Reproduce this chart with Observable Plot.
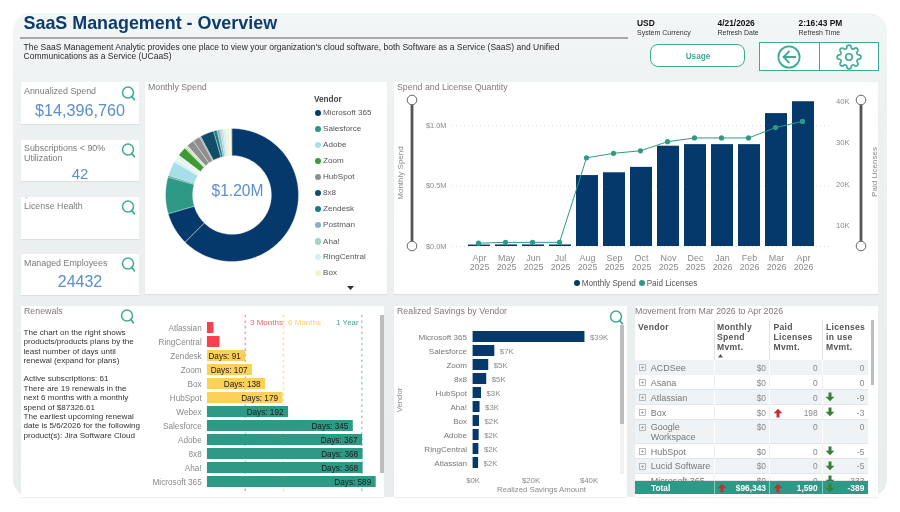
<!DOCTYPE html>
<html><head><meta charset="utf-8">
<script src="https://cdn.jsdelivr.net/npm/d3@7"></script>
<script src="https://cdn.jsdelivr.net/npm/@observablehq/plot@0.6"></script>
<style>
html,body{margin:0;padding:0;background:#fff;overflow:hidden}
#root{position:relative;width:900px;height:512px;overflow:hidden;font-family:"Liberation Sans",Arial,sans-serif;filter:blur(.45px)}
.a{position:absolute}
.t{position:absolute;white-space:pre;line-height:1}
svg{display:block}
</style></head><body><div id="root"></div>
<script>
// ---------- data ----------
const months = ["Apr 2025","May 2025","Jun 2025","Jul 2025","Aug 2025","Sep 2025","Oct 2025","Nov 2025","Dec 2025","Jan 2026","Feb 2026","Mar 2026","Apr 2026"];
const monthlySpend = [12000,13000,13000,13000,587000,610000,655000,830000,843000,843000,843000,1100000,1198000];
const paidLicenses = [5800,6000,6000,6000,26400,27500,28100,30300,31200,31200,31200,33700,35200];

const sliceVendors = ["Microsoft 365","Microsoft 365","Salesforce","Zendesk","Adobe","RingCentral","Box","RingCentral","Other","Zoom","Other","Other","HubSpot","HubSpot","Other","8x8","Zendesk","Postman","Aha!","Other","RingCentral","Box","Other","Other"];
const sliceSpend   = [750,96,107,4,43,8,4,6,5,27,5,5,22,21,4,40,10,8,6,4,8,10,4,3];
const sliceColors  = ["#05386b","#05386b","#2e9a85","#1c7d78","#a8deea","#d5f0f7","#eef7c4","#d5f0f7","#e8f5f0","#3f9a35","#b7dcae","#c9e6bc","#8f8f8f","#8f8f8f","#8f8f8f","#0e4e6b","#1c7d78","#8faecd","#9ed6c8","#b9d3de","#d5f0f7","#eef7c4","#f7fbe6","#9fb3c8"];

const legendVendors = ["Microsoft 365","Salesforce","Adobe","Zoom","HubSpot","8x8","Zendesk","Postman","Aha!","RingCentral","Box"];
const legendColors  = ["#05386b","#2e9a85","#a8deea","#3f9a35","#8f8f8f","#0e4e6b","#1c7d78","#8faecd","#9ed6c8","#d5f0f7","#eef7c4"];

const renewalVendors = ["Atlassian","RingCentral","Zendesk","Zoom","Box","HubSpot","Webex","Salesforce","Adobe","8x8","Aha!","Microsoft 365"];
const renewalDays    = [16,30,91,107,138,179,192,345,367,368,368,589];
const renewalAxisMax = 399;
const renewalThresholds = [90,180,365];

const savingsVendors = ["Microsoft 365","Salesforce","Zoom","8x8","HubSpot","Aha!","Box","Adobe","RingCentral","Atlassian"];
const savingsAmount  = [38600,7500,5400,4700,2900,2400,2200,2100,2000,1900];
const savingsLabels  = ["$39K","$7K","$5K","$5K","$3K","$3K","$2K","$2K","$2K","$2K"];

const tableVendors = ["ACDSee","Asana","Atlassian","Box","Google\nWorkspace","HubSpot","Lucid Software","Microsoft 365"];
const tableSpend   = [0,0,0,0,0,0,0,0];
const tablePaid    = [0,0,0,198,0,0,0,0];
const tableInUse   = [0,0,-9,-3,0,-5,-5,-333];

const kpis = [["Annualized Spend","$14,396,760"],["Subscriptions < 90%\nUtilization","42"],["License Health",""],["Managed Employees","24432"]];

// ---------- palette / helpers ----------
const NAVY="#05386b",TEAL="#2e9a85",ICON="#3fa994",GREY="#7a7a7a",AXIS="#8a8a8a",KPI="#5a8fca",DARK="#333";
const FONT='"Liberation Sans",Arial,sans-serif';
const root=document.getElementById("root");
function box(x,y,w,h,css={}){const d=document.createElement("div");d.className="a";
  Object.assign(d.style,{left:x+"px",top:y+"px",width:w+"px",height:h+"px"},css);root.appendChild(d);return d;}
function T(x,y,s,o={}){const d=document.createElement("div");d.className="t";d.textContent=s;
  const ax={start:"0",middle:"-50%",end:"-100%"}[o.anchor||"start"];
  Object.assign(d.style,{left:x+"px",top:y+"px",fontSize:(o.size||9)+"px",color:o.color||GREY,fontWeight:o.weight||"normal",
    lineHeight:o.lh?o.lh+"px":"1",letterSpacing:o.ls?o.ls+"px":"normal",
    transform:`translate(${ax},-50%)`+(o.rotate?` rotate(${o.rotate}deg)`:"")});
  (o.parent||root).appendChild(d);return d;}
function raw(x,y,w,h,inner,view){const d=box(x,y,w,h);d.innerHTML=`<svg width="${w}" height="${h}" viewBox="${view||`0 0 ${w} ${h}`}" fill="none">${inner}</svg>`;return d;}
function place(x,y,w,h,node){const d=box(x,y,w,h);d.appendChild(node);return d;}
const searchIcon=(x,y)=>raw(x,y,15,15,`<circle cx="7" cy="6.6" r="5.5" stroke="${ICON}" stroke-width="1.5"/><path d="M10.6 10.4l2.8 3.4" stroke="${ICON}" stroke-width="1.7" stroke-linecap="round"/>`);
const slider=(x)=>raw(x-7,93,14,160,`<rect x="5.6" y="7" width="2.8" height="146" fill="#555"/><circle cx="7" cy="7" r="4.8" fill="#fff" stroke="#666" stroke-width="1"/><circle cx="7" cy="153" r="4.8" fill="#fff" stroke="#666" stroke-width="1"/>`);
const arrow=(x,y,up,c)=>raw(x-5,y-5,10,10,up?`<path d="M5 .8L9.4 5.2H6.5V9.6H3.5V5.2H.6z" fill="${c}"/>`:`<path d="M5 9.2L9.4 4.8H6.5V.4H3.5V4.8H.6z" fill="${c}"/>`);
const card=(x,y,w,h)=>box(x,y,w,h,{background:"#fff",boxShadow:"0 1px 1px rgba(0,0,0,.06)"});
const plotStyle={background:"transparent",fontFamily:FONT,overflow:"visible",maxWidth:"none"};

// ---------- frame ----------
box(13,13,874,484,{background:"linear-gradient(#f3f6f7,#edf1f2 20%,#e9edee)",borderRadius:"18px"});
T(23.5,24,"SaaS Management - Overview",{size:17.9,weight:"bold",color:"#0c3c6e"});
box(20,37.4,608,1.4,{background:"#a8a8a8"});
T(23.5,46.5,"The SaaS Management Analytic provides one place to view your organization's cloud software, both Software as a Service (SaaS) and Unified",{size:8.52,color:"#2a2a2a"});
T(23.5,55.6,"Communications as a Service (UCaaS)",{size:8.52,color:"#2a2a2a"});
[[637,"USD","System Currency"],[717.5,"4/21/2026","Refresh Date"],[798.5,"2:16:43 PM","Refresh Time"]].forEach(([x,a,b])=>{
  T(x,23,a,{size:8.4,weight:"bold",color:"#111"});T(x,32,b,{size:7,color:"#333"});});
box(650,43.5,95,23,{background:"#fff",border:"1px solid "+ICON,borderRadius:"8px",boxSizing:"border-box"});
T(698,56.5,"Usage",{size:8.2,weight:"bold",color:ICON,anchor:"middle"});
box(758.5,41.5,120,29,{background:"#fff",border:"1.4px solid "+ICON,boxSizing:"border-box"});
box(819,41.5,1.4,29,{background:ICON});
raw(776,44,26,26,`<circle cx="13" cy="13" r="10.6" stroke="${ICON}" stroke-width="1.8"/><path d="M13.5 7L7.5 13l6 6M7.5 13H20" stroke="${ICON}" stroke-width="1.8"/>`);
raw(836,44,26,26,`<g stroke="${ICON}" stroke-width="1.5"><circle cx="12" cy="12" r="3"/><path d="M19.4 15a1.65 1.65 0 0 0 .33 1.82l.06.06a2 2 0 0 1 0 2.83 2 2 0 0 1-2.83 0l-.06-.06a1.65 1.65 0 0 0-1.82-.33 1.65 1.65 0 0 0-1 1.51V21a2 2 0 0 1-2 2 2 2 0 0 1-2-2v-.09A1.65 1.65 0 0 0 9 19.4a1.65 1.65 0 0 0-1.82.33l-.06.06a2 2 0 0 1-2.83 0 2 2 0 0 1 0-2.83l.06-.06a1.65 1.65 0 0 0 .33-1.82 1.65 1.65 0 0 0-1.51-1H3a2 2 0 0 1-2-2 2 2 0 0 1 2-2h.09A1.65 1.65 0 0 0 4.6 9a1.65 1.65 0 0 0-.33-1.82l-.06-.06a2 2 0 0 1 0-2.83 2 2 0 0 1 2.83 0l.06.06a1.65 1.65 0 0 0 1.82.33H9a1.65 1.65 0 0 0 1-1.51V3a2 2 0 0 1 2-2 2 2 0 0 1 2 2v.09a1.65 1.65 0 0 0 1 1.51 1.65 1.65 0 0 0 1.82-.33l.06-.06a2 2 0 0 1 2.83 0 2 2 0 0 1 0 2.83l-.06.06a1.65 1.65 0 0 0-.33 1.82V9a1.65 1.65 0 0 0 1.51 1H21a2 2 0 0 1 2 2 2 2 0 0 1-2 2h-.09a1.65 1.65 0 0 0-1.51 1z"/></g>`,"0 0 24 24");

// ---------- KPI cards ----------
const kpiTop=[82,140,197,254], kpiH=[42,41,42,41], kpiTitleY=[91,148,206,263], kpiValY=[110,173,0,282];
kpis.forEach(([a,b],i)=>{
  card(21,kpiTop[i],118,kpiH[i]);
  T(24,kpiTitleY[i]+(i==1?5:0),a,{size:8.9,color:GREY,lh:10});
  if(b)T(80,kpiValY[i],b,{size:i==0?16.2:i==1?15:16,color:KPI,anchor:"middle"});
  searchIcon(121,kpiTop[i]+(i==0?3.7:i==1?3.2:i==2?3.2:3));
});
T(25,198.5,"^",{size:6,color:"#aaa"});

// ---------- donut ----------
card(145,82,242,212);
T(148,87,"Monthly Spend",{size:8.8});
const totalSpend=d3.sum(sliceSpend);
let running=0;
const rOut=30, rIn=54.5;               // latitudes of the ring on the polar projection
const slices=sliceSpend.map((v,i)=>{
  const a0=running/totalSpend*360; running+=v; const a1=running/totalSpend*360;
  const n=Math.max(2,Math.ceil((a1-a0)/2));
  const outer=d3.range(n+1).map(k=>[180-(a0+(a1-a0)*k/n),rOut]);
  const inner=d3.range(n+1).map(k=>[180-(a1-(a1-a0)*k/n),rIn]);
  return {type:"Feature",properties:{vendor:sliceVendors[i],color:sliceColors[i]},
    geometry:{type:"Polygon",coordinates:[[...outer,...inner,outer[0]]]}};
});
place(164.5,127.5,133,133,Plot.plot({width:133,height:133,margin:0,style:plotStyle,
  projection:{type:"azimuthal-equidistant",rotate:[0,-90],domain:d3.geoCircle().center([0,90]).radius(60)(),inset:0},
  color:{type:"identity"},
  marks:[Plot.geo(slices,{fill:d=>d.properties.color,stroke:"#fff",strokeWidth:.35})]}));
T(237.5,191,"$1.20M",{size:15.6,color:KPI,anchor:"middle"});
T(314,100,"Vendor",{size:8.2,weight:"bold",color:"#444"});
const legY=[112.7,128.7,144.7,161,176.7,192.7,209,225,241.5,257.3,273];
legendVendors.forEach((v,i)=>{
  box(315,legY[i]-3.2,6.4,6.4,{background:legendColors[i],borderRadius:"50%"});
  T(323,legY[i],v,{size:8.1,color:"#555"});
});
raw(347,286,7,5,`<path d="M0 0H7L3.5 4z" fill="#333"/>`);

// ---------- spend and licenses ----------
card(394,82,484,212);
T(397,87,"Spend and License Quantity",{size:8.8});
const spendRows=months.map((m,i)=>({m,v:monthlySpend[i],l:paidLicenses[i]}));
const mL=66,mR=57.4,mT=19,mB=48;
const spendPlot=Plot.plot({width:484,height:212,marginLeft:mL,marginRight:mR,marginTop:mT,marginBottom:mB,style:plotStyle,
  x:{domain:months,paddingInner:.2,paddingOuter:.1,axis:null},
  y:{domain:[0,1200000],axis:null},
  marks:[
    Plot.gridY([0,500000,1000000],{stroke:"#bbb",strokeDasharray:"1,3",strokeOpacity:.45,insetLeft:-8,insetRight:-9}),
    Plot.barY(spendRows,{x:"m",y:"v",fill:NAVY}),
    Plot.axisX({anchor:"bottom",tickSize:0,tickPadding:8,fontSize:8.9,fill:AXIS,label:null,tickFormat:d=>d.replace(" ","\n")}),
    Plot.axisY({anchor:"left",ticks:[0,500000,1000000],tickSize:0,tickPadding:14,fontSize:7.4,fill:AXIS,label:null,tickFormat:d=>"$"+(d/1e6).toFixed(1)+"M"})
  ]});
place(394,82,484,212,spendPlot);
const licPlot=Plot.plot({width:484,height:212,marginLeft:mL,marginRight:mR,marginTop:mT,marginBottom:mB,style:plotStyle,
  x:{domain:months,paddingInner:.2,paddingOuter:.1,axis:null},
  y:{domain:[5000,40000],axis:null},
  marks:[
    Plot.axisY({anchor:"right",ticks:[10000,20000,30000,40000],tickSize:0,tickPadding:15,fontSize:7.6,fill:AXIS,label:null,tickFormat:d=>(d/1000)+"K"}),
    Plot.line(spendRows,{x:"m",y:"l",stroke:TEAL,strokeWidth:1}),
    Plot.dot(spendRows,{x:"m",y:"l",fill:TEAL,r:2.6})
  ]});
place(394,82,484,212,licPlot);
slider(412);slider(861);
T(401,173,"Monthly Spend",{size:8,color:AXIS,anchor:"middle",rotate:-90});
T(875,172,"Paid Licenses",{size:8,color:AXIS,anchor:"middle",rotate:-90});
box(574,280,6,6,{background:NAVY,borderRadius:"50%"});
T(581.7,283.5,"Monthly Spend",{size:8.15,color:"#555"});
box(639,280,6,6,{background:TEAL,borderRadius:"50%"});
T(646.7,283.5,"Paid Licenses",{size:8.15,color:"#555"});

// ---------- renewals ----------
card(21,306,363,191);
T(24,311,"Renewals",{size:8.8});
searchIcon(120,309);
["The chart on the right shows","products/products plans by the","least number of days until","renewal (expand for plans)","","Active subscriptions: 61","There are 19 renewals in the","next 6 months with a monthly","spend of $87326.61","The earliest upcoming renewal","date is 5/6/2026 for the following","product(s): Jira Software Cloud"]
 .forEach((s,i)=>{ if(s)T(23.5,332.8+i*9.42-(i>4?.6:0),s,{size:8.1,color:"#333"}); });
const renewRows=renewalVendors.map((v,i)=>({v,d:renewalDays[i],c:renewalDays[i]<90?"#f8414c":renewalDays[i]<=180?"#fdd05a":TEAL}));
const ruleCols=["#f7a0a6","#fde09a","#9fd4c8"];
place(140,306,244,191,Plot.plot({width:244,height:191,marginLeft:66.7,marginRight:8.3,marginTop:12.9,marginBottom:7.2,style:plotStyle,
  x:{domain:[0,renewalAxisMax],axis:null},
  y:{domain:renewalVendors,paddingInner:.25,paddingOuter:.125,axis:null},
  color:{type:"identity"},
  marks:[
    Plot.ruleX(renewalThresholds,{stroke:(d,i)=>ruleCols[i],strokeWidth:1.6,strokeDasharray:"2.4,3.2",insetTop:-4,insetBottom:-3}),
    Plot.barX(renewRows,{y:"v",x:"d",fill:"c",clip:true}),
    Plot.text(renewRows.filter(d=>d.d>=90),{y:"v",x:d=>Math.min(d.d,renewalAxisMax),text:d=>"Days: "+d.d,textAnchor:"end",dx:-5,fontSize:8.2,fill:"#1c1c1c"}),
    Plot.axisY({anchor:"left",tickSize:0,tickPadding:5.5,fontSize:8.2,fill:AXIS,label:null})
  ]}));
T(250,323,"3 Months",{size:8,color:"#f8606a"});
T(288,323,"6 Months",{size:8,color:"#fdd05a"});
T(336,323,"1 Year",{size:8,color:"#3fa994"});
box(379.6,315,4,158,{background:"#bdbdbd"});

// ---------- realized savings ----------
card(394,306,233,191);
T(397,311,"Realized Savings by Vendor",{size:8.8});
searchIcon(608.5,310);
const saveRows=savingsVendors.map((v,i)=>({v,a:savingsAmount[i],l:savingsLabels[i]}));
place(394,306,233,191,Plot.plot({width:233,height:191,marginLeft:78.6,marginRight:24,marginTop:22.6,marginBottom:27.2,style:plotStyle,
  x:{domain:[0,45000],axis:null},
  y:{domain:savingsVendors,paddingInner:.24,paddingOuter:.12,axis:null},
  marks:[
    Plot.gridX([20000,40000],{stroke:"#ccc",strokeDasharray:"1,3"}),
    Plot.barX(saveRows,{y:"v",x:"a",fill:NAVY}),
    Plot.text(saveRows,{y:"v",x:"a",text:"l",textAnchor:"start",dx:5,fontSize:7.8,fill:AXIS}),
    Plot.axisY({anchor:"left",tickSize:0,tickPadding:6,fontSize:8.1,fill:"#777",label:null}),
    Plot.axisX({anchor:"bottom",ticks:[0,20000,40000],tickSize:0,tickPadding:7,fontSize:7.8,fill:AXIS,label:null,tickFormat:d=>"$"+d/1000+"K"})
  ]}));
T(541.5,490,"Realized Savings Amount",{size:7.8,color:AXIS,anchor:"middle"});
T(400,400,"Vendor",{size:7.8,color:AXIS,anchor:"middle",rotate:-90});
box(619.6,325,4.6,149,{background:"#f1f1f1"});
box(619.6,325,4.6,99,{background:"#bdbdbd"});

// ---------- movement table ----------
card(635,306,243,191);
T(635,311,"Movement from Mar 2026 to Apr 2026",{size:8.8});
const colX=[635,714.3,769.3,822,868.3], colR=[766,817.7,864.3];
T(638,327,"Vendor",{size:8.6,weight:"bold",color:"#555",ls:.3});
[[717,"Monthly\nSpend\nMvmt."],[773.5,"Paid\nLicenses\nMvmt."],[826,"Licenses\nin use\nMvmt."]].forEach(([x,s])=>T(x,337,s,{size:8.6,weight:"bold",color:"#555",lh:10.2,ls:.3}));
raw(718,354,5,3.5,`<path d="M0 3.5H5L2.5 0z" fill="#555"/>`);
colX.slice(1,4).forEach(x=>box(x,320,.8,40,{background:"#e4e4e4"}));
const rowTop=[360,375.3,390,405,419.5,444,459,474], rowBot=[375.3,390,405,419.5,444,459,474,481];
const rowY=[367.7,382.7,397.7,412.7,427.4,451.7,466.3,481];
// the last row is cut off by the total, as in a scrolled table: everything in it lives in this clip
const clip=box(635,474,233.3,7,{overflow:"hidden"});
tableVendors.forEach((v,i)=>{
  const last=i==tableVendors.length-1;
  box(635,rowTop[i],233.3,rowBot[i]-rowTop[i]-.8,{background:i%2==0?"#f0f3f5":"#fff",borderBottom:"1px solid #e3e6e8",boxSizing:"content-box"});
  colX.slice(1,4).forEach(x=>box(x,rowTop[i],.8,rowBot[i]-rowTop[i],{background:i%2==0?"#fff":"#f0f0f0"}));
  if(last){root.appendChild(clip);}
  const P=last?clip:root, ox=last?635:0, oy=last?474:0;
  if(!last)raw(638.5,rowY[i]-3.5,7,7,`<rect x=".5" y=".5" width="6" height="6" stroke="#aaa" stroke-width=".8"/><path d="M2 3.5h3M3.5 2v3" stroke="#999" stroke-width=".7"/>`);
  T(650.7-ox,rowY[i]-oy+(v.includes("\n")?5:0),v,{size:9,color:"#777",lh:10,parent:P});
  T(colR[0]-ox,rowY[i]-oy-(i==4?.7:0),"$"+tableSpend[i],{size:8.4,color:"#888",anchor:"end",parent:P});
  T(colR[1]-ox,rowY[i]-oy-(i==4?.7:0),String(tablePaid[i]),{size:8.4,color:"#888",anchor:"end",parent:P});
  T(colR[2]-ox,rowY[i]-oy-(i==4?.7:0),String(tableInUse[i]),{size:8.4,color:"#888",anchor:"end",parent:P});
  if(tablePaid[i]>0)arrow(778,rowY[i],true,"#c1312f");
  if(tableInUse[i]<0)arrow(830,rowY[i]-.7,false,"#3b7d3b");
});
box(635,481,233.3,13.3,{background:TEAL});
T(651,487.6,"Total",{size:8.3,weight:"bold",color:"#fff"});
T(colR[0],487.6,"$96,343",{size:8.4,weight:"bold",color:"#fff",anchor:"end"});
T(colR[1],487.6,"1,590",{size:8.4,weight:"bold",color:"#fff",anchor:"end"});
T(colR[2],487.6,"-389",{size:8.4,weight:"bold",color:"#fff",anchor:"end"});
colX.slice(1,4).forEach(x=>box(x,481,.8,13.3,{background:"#8fcabd"}));
arrow(721.7,487.6,true,"#c1312f");arrow(778,487.6,true,"#c1312f");arrow(830,487.6,false,"#3b7d3b");
box(871,320,3,65,{background:"#bdbdbd"});
</script></body></html>
